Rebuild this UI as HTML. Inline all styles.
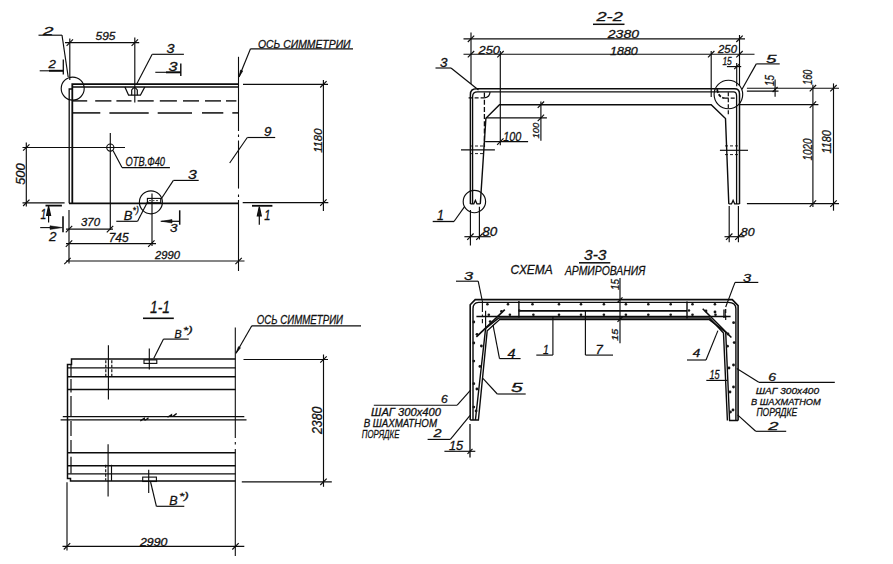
<!DOCTYPE html>
<html><head><meta charset="utf-8"><style>
html,body{margin:0;padding:0;background:#fff;width:893px;height:564px;overflow:hidden}
svg{display:block}
text{font-family:"Liberation Sans",sans-serif;font-style:italic;fill:#111;stroke:#111;stroke-width:0.28px}
</style></head><body>
<svg width="893" height="564" viewBox="0 0 893 564">
<g fill="none" stroke="#0c0c0c" stroke-width="1.15" stroke-linecap="butt">
<text x="43" y="35.2" font-size="11.71" textLength="10.50" lengthAdjust="spacingAndGlyphs">2</text>
<line x1="38.5" y1="35.2" x2="62" y2="35.2"/>
<line x1="62" y1="35.2" x2="68.2" y2="77"/>
<text x="48.4" y="68.2" font-size="11.71" textLength="7.40" lengthAdjust="spacingAndGlyphs">2</text>
<line x1="39.7" y1="70.8" x2="49" y2="70.8" stroke-width="1.1"/>
<line x1="49" y1="70.8" x2="63.3" y2="70.8" stroke-width="2"/>
<line x1="63.3" y1="59.6" x2="63.3" y2="74.4" stroke-width="1.3"/>
<line x1="65" y1="42.6" x2="139.2" y2="42.6"/>
<line x1="69.8" y1="38.5" x2="69.8" y2="80"/>
<line x1="134.8" y1="37.5" x2="134.8" y2="102.5"/>
<line x1="66.6" y1="45.8" x2="73.0" y2="39.4"/>
<line x1="131.6" y1="45.8" x2="138.0" y2="39.4"/>
<text x="95.5" y="39.7" font-size="11.71" textLength="19.90" lengthAdjust="spacingAndGlyphs">595</text>
<circle cx="72.7" cy="88.6" r="11.5"/>
<path d="M72.3,203.2 V84.2 H238.5" stroke-width="1.8"/>
<line x1="72.7" y1="87" x2="238.5" y2="87" stroke-width="1.5"/>
<path d="M72.3,89 H69.2 V203.2" stroke-width="1.3"/>
<path d="M124.9,87 L128.6,95.2 H140.4 L144.8,87" stroke-width="1.3"/>
<path d="M131.7,95.2 V90 Q134.5,85.2 137.3,90 V95.2" stroke-width="1.2"/>
<text x="166.5" y="53" font-size="12.14" textLength="8.00" lengthAdjust="spacingAndGlyphs">3</text>
<line x1="152.2" y1="54.3" x2="183.9" y2="54.3"/>
<line x1="152.2" y1="54.3" x2="136.7" y2="84.1"/>
<text x="168.5" y="71" font-size="12.14" textLength="9.00" lengthAdjust="spacingAndGlyphs">3</text>
<line x1="155.3" y1="72.3" x2="166" y2="72.3" stroke-width="1.1"/>
<line x1="166" y1="72.3" x2="181" y2="72.3" stroke-width="2.0"/>
<line x1="180.8" y1="63.6" x2="180.8" y2="76" stroke-width="1.4"/>
<line x1="73" y1="100.9" x2="87.2" y2="100.9" stroke-width="1.4"/>
<line x1="95.2" y1="100.9" x2="111.4" y2="100.9" stroke-width="1.4"/>
<line x1="116.4" y1="100.9" x2="131.5" y2="100.9" stroke-width="1.4"/>
<line x1="137.6" y1="100.9" x2="153.7" y2="100.9" stroke-width="1.4"/>
<line x1="159.8" y1="100.9" x2="176.9" y2="100.9" stroke-width="1.4"/>
<line x1="183" y1="100.9" x2="199" y2="100.9" stroke-width="1.4"/>
<line x1="205" y1="100.9" x2="221" y2="100.9" stroke-width="1.4"/>
<line x1="226" y1="100.9" x2="236.4" y2="100.9" stroke-width="1.4"/>
<line x1="73" y1="112.9" x2="100.3" y2="112.9" stroke-width="1.5"/>
<line x1="109.4" y1="112.9" x2="148.7" y2="112.9" stroke-width="1.5"/>
<line x1="157.7" y1="112.9" x2="192" y2="112.9" stroke-width="1.5"/>
<line x1="202" y1="112.9" x2="223.3" y2="112.9" stroke-width="1.5"/>
<line x1="232.3" y1="112.9" x2="238.4" y2="112.9" stroke-width="1.5"/>
<line x1="238.5" y1="56.8" x2="238.5" y2="131" stroke-width="1.1"/>
<line x1="238.5" y1="134.5" x2="238.5" y2="137" stroke-width="1.1"/>
<line x1="238.5" y1="140.5" x2="238.5" y2="188.6" stroke-width="1.1"/>
<line x1="238.5" y1="194.5" x2="238.5" y2="197" stroke-width="1.1"/>
<line x1="238.5" y1="200" x2="238.5" y2="271" stroke-width="1.1"/>
<line x1="239" y1="77" x2="250.5" y2="48.8"/>
<line x1="250.5" y1="48.8" x2="353" y2="48.8"/>
<path d="M239,77 L242.75,70.97 L240.53,70.07 Z" stroke-width="0.6" fill="#0c0c0c"/>
<text x="258" y="47.5" font-size="11.43" textLength="92.50" lengthAdjust="spacingAndGlyphs">ОСЬ СИММЕТРИИ</text>
<line x1="243" y1="84.3" x2="328" y2="84.3"/>
<line x1="242.7" y1="202.6" x2="328.3" y2="202.6"/>
<line x1="323.4" y1="80" x2="323.4" y2="211"/>
<line x1="320.2" y1="87.5" x2="326.6" y2="81.1"/>
<line x1="320.2" y1="205.8" x2="326.6" y2="199.4"/>
<text transform="translate(321.7,152.8) rotate(-90)" font-size="11.14" textLength="24.20" lengthAdjust="spacingAndGlyphs">1180</text>
<line x1="229.7" y1="163" x2="247.3" y2="137.5"/>
<line x1="247.3" y1="137.5" x2="275.2" y2="137.5"/>
<text x="264" y="136" font-size="11.86" textLength="7.50" lengthAdjust="spacingAndGlyphs">9</text>
<line x1="22.5" y1="147.5" x2="125" y2="147.5"/>
<circle cx="110.3" cy="147.6" r="3.6"/>
<line x1="110.3" y1="133" x2="110.3" y2="229.8"/>
<line x1="113" y1="150.5" x2="122" y2="167.6"/>
<line x1="122" y1="167.6" x2="169.9" y2="167.6"/>
<text x="125.5" y="166.2" font-size="11.86" textLength="39.50" lengthAdjust="spacingAndGlyphs">ОТВ.Ф40</text>
<line x1="26.3" y1="142.5" x2="26.3" y2="206.5"/>
<line x1="22.5" y1="202.8" x2="64.6" y2="202.8"/>
<line x1="23.1" y1="150.7" x2="29.5" y2="144.3"/>
<line x1="23.1" y1="206.0" x2="29.5" y2="199.6"/>
<text transform="translate(25,184.8) rotate(-90)" font-size="12.86" textLength="21.30" lengthAdjust="spacingAndGlyphs">500</text>
<line x1="69" y1="203.4" x2="238.5" y2="203.4" stroke-width="1.6"/>
<line x1="45.5" y1="205.6" x2="61.9" y2="205.6" stroke-width="1.8"/>
<line x1="48.6" y1="212" x2="48.6" y2="222.5" stroke-width="1.2"/>
<path d="M48.6,206 L46.6,215.5 L50.6,215.5 Z" fill="#161616"/>
<text x="40.6" y="218.9" font-size="15.14" textLength="5.80" lengthAdjust="spacingAndGlyphs">1</text>
<line x1="40.2" y1="227.6" x2="55" y2="227.6" stroke-width="1.1"/>
<path d="M62.5,227.6 L50,225.8 L50,229.4 Z" stroke-width="0.5" fill="#161616"/>
<line x1="63" y1="216.3" x2="63" y2="232.2" stroke-width="1.6"/>
<text x="49.1" y="240.7" font-size="12.71" textLength="7.50" lengthAdjust="spacingAndGlyphs">2</text>
<line x1="66" y1="229.1" x2="113" y2="229.1"/>
<line x1="65.8" y1="232.3" x2="72.2" y2="225.9"/>
<line x1="106.8" y1="232.3" x2="113.2" y2="225.9"/>
<text x="81" y="226.2" font-size="11.00" textLength="19.00" lengthAdjust="spacingAndGlyphs">370</text>
<line x1="66" y1="243.6" x2="156" y2="243.6"/>
<line x1="65.8" y1="246.8" x2="72.2" y2="240.4"/>
<line x1="148.1" y1="246.8" x2="154.5" y2="240.4"/>
<text x="108.7" y="242.2" font-size="12.43" textLength="20.00" lengthAdjust="spacingAndGlyphs">745</text>
<line x1="66" y1="261" x2="244.5" y2="261"/>
<line x1="64.3" y1="264.2" x2="70.7" y2="257.8"/>
<line x1="235.4" y1="264.2" x2="241.8" y2="257.8"/>
<text x="155" y="258.6" font-size="10.86" textLength="25.00" lengthAdjust="spacingAndGlyphs">2990</text>
<line x1="69" y1="210" x2="69" y2="263.5"/>
<line x1="152" y1="193.6" x2="152" y2="246"/>
<circle cx="150.9" cy="202.3" r="11.5"/>
<rect x="147.4" y="198.4" width="13.3" height="4.4" stroke-width="1.1"/>
<line x1="149" y1="200.6" x2="159" y2="200.6" stroke-width="0.8" stroke-dasharray="2 1.5"/>
<text x="123.8" y="219.5" font-size="12.50" textLength="8.70" lengthAdjust="spacingAndGlyphs">В</text>
<text x="132.5" y="212.5" font-size="9.00" textLength="6.30" lengthAdjust="spacingAndGlyphs">*)</text>
<line x1="116.3" y1="221.3" x2="137.6" y2="221.3"/>
<line x1="137.6" y1="221.3" x2="148" y2="201.1"/>
<line x1="161.3" y1="198.8" x2="173.4" y2="180.4"/>
<line x1="173.4" y1="180.4" x2="198.7" y2="180.4"/>
<text x="188" y="178.5" font-size="12.43" textLength="8.80" lengthAdjust="spacingAndGlyphs">3</text>
<line x1="160.7" y1="221.3" x2="179.7" y2="221.3" stroke-width="1.2"/>
<path d="M162,221.3 L172,219.6 L172,223 Z" stroke-width="0.6" fill="#161616"/>
<line x1="179.7" y1="210.3" x2="179.7" y2="224.7" stroke-width="1.5"/>
<text x="170" y="232.3" font-size="10.71" textLength="7.50" lengthAdjust="spacingAndGlyphs">3</text>
<line x1="252" y1="205.8" x2="272.4" y2="205.8" stroke-width="1.8"/>
<line x1="259.3" y1="212" x2="259.3" y2="224.8" stroke-width="1.2"/>
<path d="M259.3,206.5 L257.3,216 L261.3,216 Z" fill="#161616"/>
<text x="264.3" y="219.8" font-size="14.29" textLength="6.20" lengthAdjust="spacingAndGlyphs">1</text>
<text x="596.5" y="21" font-size="12.14" textLength="26.30" lengthAdjust="spacingAndGlyphs">2-2</text>
<line x1="593" y1="24.3" x2="624.5" y2="24.3" stroke-width="1.5"/>
<line x1="463.5" y1="38.8" x2="745" y2="38.8"/>
<line x1="467.8" y1="42.0" x2="474.2" y2="35.6"/>
<line x1="736.3" y1="42.0" x2="742.7" y2="35.6"/>
<text x="607.8" y="37.5" font-size="11.43" textLength="31.20" lengthAdjust="spacingAndGlyphs">2380</text>
<line x1="471" y1="32.5" x2="471" y2="84"/>
<line x1="739.5" y1="35" x2="739.5" y2="86"/>
<line x1="463.5" y1="54.2" x2="754.5" y2="54.2"/>
<line x1="467.8" y1="57.4" x2="474.2" y2="51.0"/>
<line x1="497.3" y1="57.4" x2="503.7" y2="51.0"/>
<line x1="708.0" y1="57.4" x2="714.4" y2="51.0"/>
<line x1="736.3" y1="57.4" x2="742.7" y2="51.0"/>
<text x="478.5" y="53.5" font-size="11.43" textLength="21.50" lengthAdjust="spacingAndGlyphs">250</text>
<text x="610" y="55" font-size="10.71" textLength="27.80" lengthAdjust="spacingAndGlyphs">1880</text>
<text x="718" y="53" font-size="10.71" textLength="19.00" lengthAdjust="spacingAndGlyphs">250</text>
<line x1="500.3" y1="51" x2="500.3" y2="145.3"/>
<line x1="711.2" y1="51" x2="711.2" y2="97"/>
<text x="722.4" y="65.3" font-size="10.71" textLength="9.40" lengthAdjust="spacingAndGlyphs">15</text>
<line x1="726.9" y1="66.6" x2="741.2" y2="66.6"/>
<line x1="736.7" y1="63" x2="736.7" y2="86.2"/>
<line x1="734.2" y1="69.1" x2="739.2" y2="64.1"/>
<text x="766.1" y="63.2" font-size="11.00" textLength="10.50" lengthAdjust="spacingAndGlyphs">5</text>
<line x1="756.3" y1="63.9" x2="779.7" y2="63.9"/>
<line x1="756.3" y1="63.9" x2="742" y2="89.2"/>
<circle cx="728.4" cy="94.5" r="14.3"/>
<text x="440" y="66.5" font-size="12.14" textLength="7.50" lengthAdjust="spacingAndGlyphs">3</text>
<line x1="435.5" y1="68" x2="451" y2="68"/>
<line x1="451" y1="68" x2="478.5" y2="90"/>
<path d="M470.4,203.9 V94.5 Q470.4,88.8 476.5,88.8 H734.5 Q739.5,88.8 739.5,94 V203.9" stroke-width="1.5"/>
<path d="M472.6,203.9 V96.5 Q472.6,91.9 477.5,91.9 H733.5 Q736.6,91.9 736.6,96 V203.9" stroke-width="1.3"/>
<path d="M480.3,203.9 L485.9,118.2 L499.5,104.7 H711.2 L725.5,118.6 L728.8,203.9" stroke-width="1.4"/>
<path d="M470.4,203.9 H473.8 L475.4,200.4 L477,203.9 H480.3" stroke-width="1.3"/>
<path d="M728.8,203.9 H731.5 L733.1,200.4 L734.7,203.9 H739.5" stroke-width="1.3"/>
<circle cx="474.4" cy="201.5" r="11.2"/>
<line x1="468.6" y1="97.9" x2="484.4" y2="97.9" stroke-width="1.3" stroke-dasharray="4 2"/>
<line x1="484.4" y1="92.5" x2="484.4" y2="147" stroke-width="1.3" stroke-dasharray="5 2.2"/>
<path d="M484.4,97.9 Q490,97 490,92" stroke-width="1.2"/>
<path d="M717.1,89.2 Q718.5,97.5 724.7,98.2" stroke-width="1.8" stroke-dasharray="3.5 1.5"/>
<line x1="724.7" y1="98.2" x2="736" y2="98.2" stroke-width="1.3" stroke-dasharray="4 2"/>
<line x1="728.3" y1="92.2" x2="728.3" y2="116" stroke-width="1.2" stroke-dasharray="4 2"/>
<line x1="461" y1="149.9" x2="494.9" y2="149.9"/>
<line x1="470" y1="146" x2="484" y2="146" stroke-width="0.9" stroke-dasharray="3 2"/>
<line x1="470" y1="153.6" x2="484" y2="153.6" stroke-width="0.9" stroke-dasharray="3 2"/>
<line x1="719.9" y1="150.3" x2="748" y2="150.3"/>
<line x1="725" y1="145.9" x2="738" y2="145.9" stroke-width="0.9" stroke-dasharray="3 2"/>
<line x1="725" y1="154.6" x2="738" y2="154.6" stroke-width="0.9" stroke-dasharray="3 2"/>
<line x1="485.9" y1="117.9" x2="546.9" y2="117.9"/>
<line x1="540.9" y1="101.6" x2="540.9" y2="140.8"/>
<line x1="537.7" y1="107.9" x2="544.1" y2="101.5"/>
<line x1="537.7" y1="121.1" x2="544.1" y2="114.7"/>
<text transform="translate(538.6,138.6) rotate(-90)" font-size="9.57" textLength="15.90" lengthAdjust="spacingAndGlyphs">100</text>
<line x1="485.1" y1="141.6" x2="528.1" y2="141.6"/>
<line x1="497.1" y1="144.8" x2="503.5" y2="138.4"/>
<text x="503.2" y="140.8" font-size="12.86" textLength="18.10" lengthAdjust="spacingAndGlyphs">100</text>
<line x1="470.4" y1="210" x2="470.4" y2="245.4"/>
<line x1="479.4" y1="206.8" x2="479.4" y2="239.5"/>
<line x1="464.4" y1="236.7" x2="490.7" y2="236.7"/>
<line x1="467.2" y1="239.9" x2="473.6" y2="233.5"/>
<line x1="476.2" y1="239.9" x2="482.6" y2="233.5"/>
<text x="482.3" y="236" font-size="12.43" textLength="15.00" lengthAdjust="spacingAndGlyphs">80</text>
<line x1="729.2" y1="206" x2="729.2" y2="242.3"/>
<line x1="738.4" y1="206" x2="738.4" y2="242.3"/>
<line x1="724.5" y1="236.7" x2="744.5" y2="236.7"/>
<line x1="726.0" y1="239.9" x2="732.4" y2="233.5"/>
<line x1="735.2" y1="239.9" x2="741.6" y2="233.5"/>
<text x="740.8" y="236" font-size="10.71" textLength="13.70" lengthAdjust="spacingAndGlyphs">80</text>
<text x="437" y="219.7" font-size="13.71" textLength="6.90" lengthAdjust="spacingAndGlyphs">1</text>
<line x1="432.7" y1="221.5" x2="454" y2="221.5" stroke-width="1.3"/>
<line x1="454" y1="221.5" x2="464.4" y2="206.9"/>
<line x1="746.9" y1="88.2" x2="839" y2="88.2"/>
<line x1="746.9" y1="91.1" x2="778.5" y2="91.1"/>
<line x1="739.5" y1="104.6" x2="818.4" y2="104.6"/>
<line x1="746.9" y1="203.6" x2="839" y2="203.6"/>
<line x1="812.9" y1="84.8" x2="812.9" y2="207.1"/>
<line x1="809.7" y1="91.4" x2="816.1" y2="85.0"/>
<line x1="809.7" y1="107.8" x2="816.1" y2="101.4"/>
<line x1="809.7" y1="206.8" x2="816.1" y2="200.4"/>
<line x1="833.5" y1="83.4" x2="833.5" y2="210.7"/>
<line x1="830.3" y1="91.4" x2="836.7" y2="85.0"/>
<line x1="830.3" y1="206.8" x2="836.7" y2="200.4"/>
<line x1="775.1" y1="79.4" x2="775.1" y2="96.7"/>
<line x1="772.6" y1="92.0" x2="777.6" y2="87.0"/>
<text transform="translate(774.4,86.1) rotate(-90)" font-size="12.00" textLength="11.00" lengthAdjust="spacingAndGlyphs">15</text>
<text transform="translate(812,84.8) rotate(-90)" font-size="13.29" textLength="15.20" lengthAdjust="spacingAndGlyphs">160</text>
<text transform="translate(812,160.4) rotate(-90)" font-size="13.29" textLength="22.00" lengthAdjust="spacingAndGlyphs">1020</text>
<text transform="translate(830.8,153.5) rotate(-90)" font-size="12.57" textLength="23.40" lengthAdjust="spacingAndGlyphs">1180</text>
<text x="150" y="313.3" font-size="16.14" textLength="20.00" lengthAdjust="spacingAndGlyphs">1-1</text>
<line x1="143" y1="318.3" x2="173.8" y2="318.3" stroke-width="1.6"/>
<text x="174.6" y="337.6" font-size="10.00" textLength="7.10" lengthAdjust="spacingAndGlyphs">В</text>
<text x="183" y="333" font-size="9.00" textLength="9.70" lengthAdjust="spacingAndGlyphs">*)</text>
<line x1="163.5" y1="339.1" x2="188.8" y2="339.1"/>
<line x1="163.5" y1="339.1" x2="153.7" y2="358.6"/>
<path d="M235.5,359.1 H71.5 V364.5 H67.5 V478.5 H70.5 V481 H235.5" stroke-width="1.5"/>
<line x1="67.5" y1="367.9" x2="235.5" y2="367.9" stroke-width="1.4"/>
<line x1="67.5" y1="376.8" x2="235.5" y2="376.8" stroke-width="1.4"/>
<line x1="67.5" y1="389.5" x2="235.5" y2="389.5" stroke-width="1.4"/>
<line x1="67.5" y1="452.7" x2="235.5" y2="452.7" stroke-width="1.4"/>
<line x1="67.5" y1="465.8" x2="235.5" y2="465.8" stroke-width="1.4"/>
<line x1="67.5" y1="473.9" x2="235.5" y2="473.9" stroke-width="1.4"/>
<line x1="71" y1="365" x2="71" y2="376" stroke-width="1.2"/>
<line x1="71" y1="379" x2="71" y2="392.6" stroke-width="1.2"/>
<line x1="71" y1="396" x2="71" y2="416" stroke-width="1.2"/>
<line x1="71" y1="421" x2="71" y2="436" stroke-width="1.2"/>
<line x1="71" y1="440" x2="71" y2="452" stroke-width="1.2"/>
<line x1="71" y1="456.8" x2="71" y2="473.5" stroke-width="1.2"/>
<line x1="62.8" y1="416.6" x2="244.3" y2="416.6" stroke-width="1.3"/>
<path d="M167.5,417.2 Q169.5,416.2 171.5,414.8 Q171.5,417 173,416.2 Q175,415 176.7,413.6" stroke-width="1.3"/>
<line x1="60.6" y1="419.9" x2="246.5" y2="419.9" stroke-width="1.3"/>
<path d="M140.3,420.8 Q142.3,419.8 144.3,418.4 Q144.3,420.6 145.8,419.8 Q147.7,418.6 148.5,417.6" stroke-width="1.3"/>
<line x1="108.4" y1="345.3" x2="108.4" y2="399.6"/>
<line x1="108.1" y1="444.3" x2="108.1" y2="496.5"/>
<line x1="105.8" y1="360.2" x2="105.8" y2="376.5" stroke-dasharray="3 1.5"/>
<line x1="111.8" y1="360.2" x2="111.8" y2="376.5" stroke-dasharray="3 1.5"/>
<line x1="105.7" y1="464.8" x2="105.7" y2="480.5" stroke-dasharray="3 1.5"/>
<line x1="111.5" y1="464.8" x2="111.5" y2="481"/>
<rect x="144" y="359.9" width="12.8" height="3.5" stroke-width="1.1"/>
<line x1="149.3" y1="348.4" x2="149.3" y2="369.5"/>
<rect x="142.7" y="477.1" width="13.7" height="4.4" stroke-width="1.1"/>
<line x1="148.7" y1="469.8" x2="148.7" y2="493"/>
<line x1="150.6" y1="482" x2="156.4" y2="506.3"/>
<line x1="156.4" y1="506.3" x2="184.3" y2="506.3"/>
<text x="169.3" y="504.6" font-size="12.50" textLength="8.40" lengthAdjust="spacingAndGlyphs">В</text>
<text x="179" y="498.5" font-size="9.00" textLength="9.80" lengthAdjust="spacingAndGlyphs">*)</text>
<line x1="235.3" y1="327.4" x2="235.3" y2="438" stroke-width="1.1"/>
<line x1="235.3" y1="442" x2="235.3" y2="444.5" stroke-width="1.1"/>
<line x1="235.3" y1="449" x2="235.3" y2="556" stroke-width="1.1"/>
<line x1="236" y1="353.3" x2="251.8" y2="325.8"/>
<line x1="251.8" y1="325.8" x2="361" y2="325.8"/>
<path d="M236,353.3 L240.53,347.83 L238.45,346.63 Z" stroke-width="0.6" fill="#0c0c0c"/>
<text x="256.8" y="324.2" font-size="12.43" textLength="86.20" lengthAdjust="spacingAndGlyphs">ОСЬ СИММЕТРИИ</text>
<line x1="243.5" y1="359.5" x2="328" y2="359.5"/>
<line x1="241.8" y1="481.8" x2="331.8" y2="481.8"/>
<line x1="323.5" y1="354.5" x2="323.5" y2="486.8"/>
<line x1="320.3" y1="362.7" x2="326.7" y2="356.3"/>
<line x1="320.3" y1="485.0" x2="326.7" y2="478.6"/>
<text transform="translate(321.6,434) rotate(-90)" font-size="14.00" textLength="27.50" lengthAdjust="spacingAndGlyphs">2380</text>
<line x1="62.5" y1="546.3" x2="244.3" y2="546.3"/>
<line x1="63.8" y1="549.5" x2="70.2" y2="543.1"/>
<line x1="232.3" y1="549.5" x2="238.7" y2="543.1"/>
<line x1="67" y1="482.2" x2="67" y2="550.5"/>
<text x="140" y="545.5" font-size="10.71" textLength="27.50" lengthAdjust="spacingAndGlyphs">2990</text>
<text x="584" y="259.8" font-size="14.29" textLength="22.50" lengthAdjust="spacingAndGlyphs">3-3</text>
<line x1="579" y1="262.8" x2="610.3" y2="262.8" stroke-width="1.5"/>
<text x="510.5" y="273.8" font-size="12.57" textLength="42.30" lengthAdjust="spacingAndGlyphs">СХЕМА</text>
<text x="564.9" y="274.5" font-size="13.57" textLength="80.40" lengthAdjust="spacingAndGlyphs">АРМИРОВАНИЯ</text>
<text x="464.1" y="280.2" font-size="11.00" textLength="9.10" lengthAdjust="spacingAndGlyphs">3</text>
<line x1="456" y1="281.2" x2="478.2" y2="281.2"/>
<line x1="478.2" y1="281.2" x2="482.2" y2="300.5"/>
<line x1="482.4" y1="300.5" x2="482.4" y2="312" stroke-width="1.1"/>
<line x1="482.4" y1="314.5" x2="482.4" y2="316.5" stroke-width="1.1"/>
<line x1="482.4" y1="319" x2="482.4" y2="323.2" stroke-width="1.1"/>
<text x="743" y="281.5" font-size="10.00" textLength="8.10" lengthAdjust="spacingAndGlyphs">3</text>
<line x1="735" y1="282.4" x2="758.3" y2="282.4"/>
<line x1="735" y1="282.4" x2="725.7" y2="307"/>
<line x1="725.7" y1="309" x2="725.7" y2="313"/>
<line x1="725.7" y1="315.5" x2="725.7" y2="320"/>
<line x1="723.9" y1="309.6" x2="723.9" y2="318"/>
<line x1="725.2" y1="309.6" x2="725.2" y2="318"/>
<path d="M470.2,420 V304.8 L475.2,299.6 H732.3 L738.1,305.6 V420.5" stroke-width="1.6"/>
<path d="M473,420 V308.8 Q473,302.6 478.6,302.4 H728.3 Q735.9,302.6 735.9,308.7 V420.5" stroke-width="1.4"/>
<path d="M470.2,420 H478.4 L487.2,330.8 L499.6,319.6 H709.3 L725.7,332.2 L729.6,420.5 H738.1" stroke-width="1.4"/>
<path d="M475.4,420 L485.6,328.4 L498.8,318 H709.5 L723.5,333.1 L727.4,420.5" stroke-width="1.4"/>
<line x1="518.9" y1="310.9" x2="687" y2="310.9" stroke-width="1.7"/>
<line x1="476.4" y1="316.4" x2="730.6" y2="316.4" stroke-width="1.5"/>
<line x1="518.9" y1="300.9" x2="518.9" y2="317.4" stroke-width="1.4"/>
<line x1="687" y1="301.5" x2="687" y2="318.5" stroke-width="1.4"/>
<line x1="476.4" y1="336.8" x2="504.8" y2="309.6" stroke-width="1.6"/>
<line x1="702.7" y1="308.7" x2="731.4" y2="337.5" stroke-width="1.6"/>
<line x1="485.6" y1="310.8" x2="485.6" y2="330.4"/>
<circle cx="487.4" cy="304.3" r="1.3" fill="#161616" stroke="none"/>
<circle cx="508" cy="304.3" r="1.3" fill="#161616" stroke="none"/>
<circle cx="532.5" cy="304.3" r="1.3" fill="#161616" stroke="none"/>
<circle cx="559" cy="304.3" r="1.3" fill="#161616" stroke="none"/>
<circle cx="581" cy="304.3" r="1.3" fill="#161616" stroke="none"/>
<circle cx="603.9" cy="304.3" r="1.3" fill="#161616" stroke="none"/>
<circle cx="625.9" cy="304.3" r="1.3" fill="#161616" stroke="none"/>
<circle cx="648.3" cy="304.3" r="1.3" fill="#161616" stroke="none"/>
<circle cx="670.7" cy="304.3" r="1.3" fill="#161616" stroke="none"/>
<circle cx="692.5" cy="304.3" r="1.3" fill="#161616" stroke="none"/>
<circle cx="714.9" cy="304.3" r="1.3" fill="#161616" stroke="none"/>
<circle cx="488.8" cy="314.8" r="1.3" fill="#161616" stroke="none"/>
<circle cx="509.9" cy="314.8" r="1.3" fill="#161616" stroke="none"/>
<circle cx="533.4" cy="314.8" r="1.3" fill="#161616" stroke="none"/>
<circle cx="559" cy="314.8" r="1.3" fill="#161616" stroke="none"/>
<circle cx="581" cy="314.8" r="1.3" fill="#161616" stroke="none"/>
<circle cx="603.9" cy="314.8" r="1.3" fill="#161616" stroke="none"/>
<circle cx="625.9" cy="314.8" r="1.3" fill="#161616" stroke="none"/>
<circle cx="648.3" cy="314.8" r="1.3" fill="#161616" stroke="none"/>
<circle cx="670.7" cy="314.8" r="1.3" fill="#161616" stroke="none"/>
<circle cx="692.5" cy="314.8" r="1.3" fill="#161616" stroke="none"/>
<circle cx="715.5" cy="314.8" r="1.3" fill="#161616" stroke="none"/>
<circle cx="519.3" cy="310.5" r="1.2" fill="#161616" stroke="none"/>
<circle cx="689" cy="310.5" r="1.2" fill="#161616" stroke="none"/>
<circle cx="473.8" cy="322" r="1.4" fill="#161616" stroke="none"/>
<circle cx="473.8" cy="343" r="1.4" fill="#161616" stroke="none"/>
<circle cx="473.8" cy="361.1" r="1.4" fill="#161616" stroke="none"/>
<circle cx="473.8" cy="383.7" r="1.4" fill="#161616" stroke="none"/>
<circle cx="473.8" cy="407.1" r="1.4" fill="#161616" stroke="none"/>
<circle cx="481.4" cy="346" r="1.4" fill="#161616" stroke="none"/>
<circle cx="479.9" cy="366.4" r="1.4" fill="#161616" stroke="none"/>
<circle cx="476.9" cy="389" r="1.4" fill="#161616" stroke="none"/>
<circle cx="476.1" cy="410.9" r="1.4" fill="#161616" stroke="none"/>
<circle cx="477" cy="334.3" r="1.4" fill="#161616" stroke="none"/>
<circle cx="490.2" cy="321.6" r="1.4" fill="#161616" stroke="none"/>
<circle cx="501.5" cy="311.3" r="1.4" fill="#161616" stroke="none"/>
<circle cx="733.6" cy="322.7" r="1.4" fill="#161616" stroke="none"/>
<circle cx="734.2" cy="342.6" r="1.4" fill="#161616" stroke="none"/>
<circle cx="733.5" cy="365" r="1.4" fill="#161616" stroke="none"/>
<circle cx="733.5" cy="387" r="1.4" fill="#161616" stroke="none"/>
<circle cx="733" cy="410" r="1.4" fill="#161616" stroke="none"/>
<circle cx="727.5" cy="346.2" r="1.4" fill="#161616" stroke="none"/>
<circle cx="729" cy="368" r="1.4" fill="#161616" stroke="none"/>
<circle cx="730" cy="392" r="1.4" fill="#161616" stroke="none"/>
<circle cx="730.5" cy="412" r="1.4" fill="#161616" stroke="none"/>
<circle cx="715" cy="312" r="1.4" fill="#161616" stroke="none"/>
<circle cx="728" cy="334" r="1.4" fill="#161616" stroke="none"/>
<circle cx="706" cy="311" r="1.4" fill="#161616" stroke="none"/>
<line x1="620" y1="278" x2="620" y2="343.2"/>
<line x1="617.5" y1="302.3" x2="622.5" y2="297.3"/>
<line x1="617.5" y1="321.8" x2="622.5" y2="316.8"/>
<text transform="translate(619,290) rotate(-90)" font-size="10.00" textLength="11.00" lengthAdjust="spacingAndGlyphs">15</text>
<text transform="translate(618,340.7) rotate(-90)" font-size="9.71" textLength="11.70" lengthAdjust="spacingAndGlyphs">15</text>
<line x1="552.9" y1="316.5" x2="552.9" y2="355.1"/>
<line x1="536.3" y1="355.1" x2="552.9" y2="355.1"/>
<text x="543.1" y="353.5" font-size="12.86" textLength="5.90" lengthAdjust="spacingAndGlyphs">1</text>
<line x1="585.4" y1="311" x2="585.4" y2="355.1"/>
<line x1="585.4" y1="355.1" x2="613" y2="355.1"/>
<text x="595.5" y="353.5" font-size="11.86" textLength="7.30" lengthAdjust="spacingAndGlyphs">7</text>
<line x1="493" y1="324.9" x2="499.5" y2="358.6"/>
<line x1="499.5" y1="358.6" x2="520.6" y2="358.6"/>
<text x="507.5" y="357.8" font-size="12.86" textLength="8.00" lengthAdjust="spacingAndGlyphs">4</text>
<line x1="717.9" y1="330.6" x2="706" y2="360"/>
<line x1="687" y1="360" x2="706" y2="360"/>
<text x="692.8" y="357" font-size="10.71" textLength="7.50" lengthAdjust="spacingAndGlyphs">4</text>
<line x1="482.9" y1="378.4" x2="497.3" y2="394"/>
<line x1="497.3" y1="394" x2="525.7" y2="394"/>
<text x="511.1" y="392" font-size="12.86" textLength="11.70" lengthAdjust="spacingAndGlyphs">5</text>
<line x1="470.8" y1="389.8" x2="457.2" y2="405.2"/>
<line x1="373.8" y1="405.2" x2="457.2" y2="405.2"/>
<text x="441" y="403" font-size="10.71" textLength="6.70" lengthAdjust="spacingAndGlyphs">6</text>
<text x="371.1" y="415.5" font-size="10.00" textLength="69.90" lengthAdjust="spacingAndGlyphs">ШАГ 300х400</text>
<text x="363.7" y="426.5" font-size="10.29" textLength="73.30" lengthAdjust="spacingAndGlyphs">В ШАХМАТНОМ</text>
<text x="361.7" y="438.2" font-size="11.71" textLength="37.70" lengthAdjust="spacingAndGlyphs">ПОРЯДКЕ</text>
<line x1="470.1" y1="415.4" x2="450.4" y2="439.4"/>
<line x1="427.6" y1="439.4" x2="450.4" y2="439.4"/>
<text x="433.6" y="437.4" font-size="11.29" textLength="8.10" lengthAdjust="spacingAndGlyphs">2</text>
<line x1="470" y1="424" x2="470" y2="457.6" stroke-width="1.3"/>
<line x1="444.4" y1="451.3" x2="475.3" y2="451.3"/>
<line x1="467.5" y1="453.8" x2="472.5" y2="448.8"/>
<text x="449" y="450.4" font-size="12.71" textLength="14.20" lengthAdjust="spacingAndGlyphs">15</text>
<line x1="736.8" y1="368.6" x2="758.8" y2="382.3"/>
<line x1="758.8" y1="382.3" x2="834.8" y2="382.3"/>
<text x="768.2" y="380.6" font-size="10.14" textLength="7.80" lengthAdjust="spacingAndGlyphs">6</text>
<text x="755.7" y="394" font-size="8.86" textLength="63.40" lengthAdjust="spacingAndGlyphs">ШАГ 300х400</text>
<text x="751" y="405" font-size="8.86" textLength="69.70" lengthAdjust="spacingAndGlyphs">В ШАХМАТНОМ</text>
<text x="756.4" y="416" font-size="10.00" textLength="40.80" lengthAdjust="spacingAndGlyphs">ПОРЯДКЕ</text>
<line x1="737.6" y1="414.9" x2="755.7" y2="431.3"/>
<line x1="755.7" y1="431.3" x2="786.2" y2="431.3"/>
<text x="768.2" y="430.2" font-size="10.29" textLength="10.20" lengthAdjust="spacingAndGlyphs">2</text>
<line x1="706.3" y1="380.4" x2="727.4" y2="380.4"/>
<text x="709.4" y="378.6" font-size="12.29" textLength="10.20" lengthAdjust="spacingAndGlyphs">15</text>
</g></svg></body></html>
